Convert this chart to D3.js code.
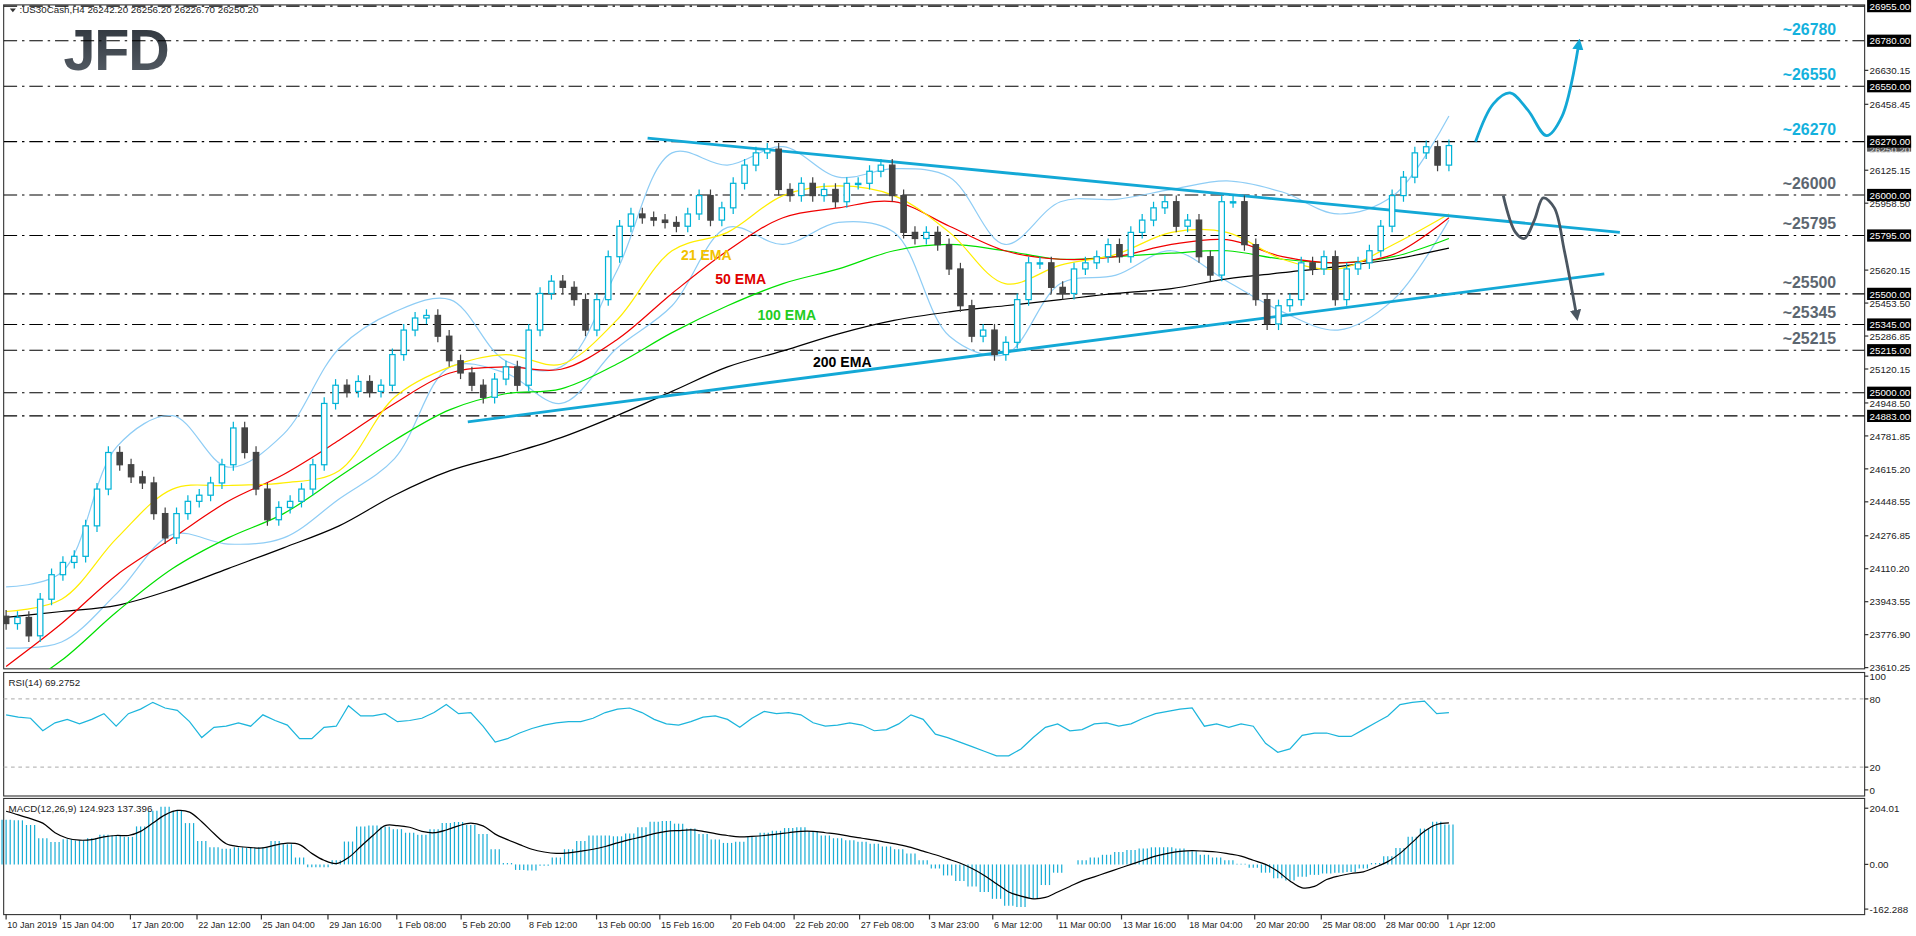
<!DOCTYPE html>
<html><head><meta charset="utf-8">
<script src="https://cdn.jsdelivr.net/npm/d3@7"></script>
<style>html,body{margin:0;padding:0;background:#fff;overflow:hidden}</style>
</head><body>
<svg id="c" width="1916" height="936" viewBox="0 0 1567 765.5"></svg>
<script>
// ---------- DATA ----------
const closes = [23833,23864,23771,23956,24080,24142,24173,24327,24513,24698,24636,24575,24544,24389,24266,24389,24451,24482,24544,24636,24822,24698,24513,24358,24420,24451,24513,24636,24946,25038,25007,25057,25007,25038,25193,25317,25378,25391,25286,25162,25100,25038,24977,25069,25131,25038,25317,25502,25564,25533,25471,25317,25471,25688,25842,25904,25885,25873,25861,25842,25904,25997,25873,25935,26059,26151,26213,26232,26028,25997,26059,25997,26028,25966,26059,26059,26120,26151,25997,25811,25780,25811,25749,25626,25440,25286,25317,25193,25255,25471,25657,25657,25533,25502,25626,25657,25688,25749,25688,25811,25873,25935,25966,25842,25873,25688,25595,25966,25966,25749,25471,25348,25440,25471,25657,25626,25688,25471,25626,25657,25718,25842,25997,26090,26213,26244,26151,26250];
const firstOpen = 23870;
// line series sampled every 5 bars (bar 0..130)
const ema21  = [23894,23956,24266,24513,24531,24544,24606,24977,25131,25193,25144,25366,25718,25811,25997,26046,25997,25811,25552,25645,25700,25811,25811,25675,25626,25750,25904];
const ema50  = [23616,23833,24080,24266,24451,24587,24760,24946,25100,25131,25119,25267,25502,25718,25885,25935,25966,25842,25718,25675,25688,25750,25774,25688,25657,25700,25885];
const ema100 = [23462,23647,23894,24111,24266,24389,24575,24760,24915,24995,25020,25144,25304,25440,25552,25626,25718,25750,25718,25675,25688,25706,25718,25675,25657,25688,25780];
const ema200 = [23864,23894,23925,24006,24111,24216,24327,24482,24606,24686,24773,24884,25007,25131,25212,25298,25366,25409,25440,25471,25502,25527,25576,25607,25638,25675,25731];
const bbUpper = [24018,24092,24729,24884,24624,24791,25224,25409,25471,25162,25131,25613,26213,26151,26244,26090,26133,26090,25750,25966,25978,26028,26071,26015,25904,25997,26399];
const bbLower = [23709,23740,23987,24284,24235,24266,24463,24667,25131,25100,24946,25224,25440,25836,25750,25861,25811,25286,25193,25552,25595,25718,25564,25409,25317,25471,25873];
const rsi = [66,64,63,52,59,62,58,62,67,56,67,71,77,72,70,60,46,55,56,59,56,66,61,57,45,45,55,56,74,65,65,67,60,61,63,68,75,67,68,56,42,45,50,54,57,59,60,60,63,68,71,72,68,62,58,57,60,64,65,62,55,63,69,67,68,66,59,56,57,59,57,52,53,58,66,62,49,46,42,38,34,30,30,36,46,55,58,52,53,58,59,56,58,63,67,69,71,72,56,58,55,58,56,41,33,36,48,50,50,47,47,53,59,65,75,77,78,67,68];
const macdHist = [162,160,143,95,81,91,87,95,108,105,100,138,195,209,195,150,85,62,57,62,60,62,85,73,25,-10,-10,15,83,138,141,137,128,115,108,128,150,154,143,110,55,5,-20,-22,-5,25,55,85,105,105,102,112,135,155,158,148,130,110,90,78,82,100,115,122,132,135,120,105,95,88,82,75,65,55,40,15,-15,-40,-60,-80,-100,-125,-150,-155,-125,-75,-30,0,15,25,35,45,52,58,62,62,58,48,35,25,15,2,-12,-30,-50,-58,-45,-38,-33,-30,-28,-15,5,30,60,100,130,155,145];
const macdSignal = [193,180,166,150,115,95,88,90,100,105,105,120,150,180,196,190,155,112,75,65,61,60,70,77,72,40,15,3,25,65,105,141,141,135,120,115,125,140,150,140,110,90,72,55,45,40,42,48,55,65,78,90,100,112,120,123,125,120,112,105,100,102,105,110,115,120,120,115,110,102,95,88,80,72,62,48,35,20,5,-15,-40,-70,-100,-115,-125,-120,-100,-80,-60,-45,-30,-15,0,15,30,40,47,50,48,45,38,30,15,0,-25,-60,-85,-80,-55,-42,-33,-27,-10,10,40,80,120,145,151];
const levels = [26955,26780,26550,26270,26000,25795,25500,25345,25215,25000,24883];
const levelNotes = [["~26780",26780,"c"],["~26550",26550,"c"],["~26270",26270,"c"],["~26000",26000,"g"],["~25795",25795,"g"],["~25500",25500,"g"],["~25345",25345,"g"],["~25215",25215,"g"]];
const axisTicks = ["26630.15","26458.45","26125.15","25958.50","25620.15","25453.50","25286.85","25120.15","24948.50","24781.85","24615.20","24448.55","24276.85","24110.20","23943.55","23776.90","23610.25"];
const upperTrend = [[57.8,26288],[145.4,25811]];
const lowerTrend = [[41.6,24853],[144,25601]];
const bullPath = [[132.4,26269],[134.0,26461],[135.5,26516],[137.1,26430],[138.8,26300],[140.2,26399],[141.7,26763]];
const bearPath = [[134.9,25997],[136.0,25811],[136.8,25780],[137.7,25873],[138.5,25985],[139.5,25935],[140.4,25718],[141.5,25391]];
const emaLabels = [["21 EMA",25669,"#f2c200"],["50 EMA",25552,"#e00000"],["100 EMA",25366,"#22cc22"],["200 EMA",25131,"#000"]];
const emaLabelBars = [60.8,63.9,67.7,72.7];
const dateLabels = ["10 Jan 2019","15 Jan 04:00","17 Jan 20:00","22 Jan 12:00","25 Jan 04:00","29 Jan 16:00","1 Feb 08:00","5 Feb 20:00","8 Feb 12:00","13 Feb 00:00","15 Feb 16:00","20 Feb 04:00","22 Feb 20:00","27 Feb 08:00","3 Mar 23:00","6 Mar 12:00","11 Mar 00:00","13 Mar 16:00","18 Mar 04:00","20 Mar 20:00","25 Mar 08:00","28 Mar 00:00","1 Apr 12:00"];
const dateBars = [0,4.9,11.2,17.2,23.0,29.0,35.2,41.0,47.0,53.2,58.9,65.3,71.0,76.9,83.2,88.9,94.7,100.5,106.5,112.5,118.5,124.2,129.9];

// ---------- DRAW ----------
const svg = d3.select("#c");
const F = "'Liberation Sans', Arial, sans-serif";
const L = 3, R = 1525;
const xb = d3.scaleLinear().domain([0,130]).range([5,1185]);
const y = d3.scaleLinear().domain([23610.25,26955]).range([546,5]);
const yR = d3.scaleLinear().domain([0,100]).range([646,553]);
const yM = d3.scaleLinear().domain([-162.288,204.01]).range([743.5,661]);
const CY = "#00b3d7", BLUE = "#13a8d6", GR = "#4b5661";

const defs = svg.append("defs");
const grad = defs.append("linearGradient").attr("id","jg").attr("x1",0).attr("y1",0).attr("x2",0).attr("y2",1);
grad.append("stop").attr("offset",0).attr("stop-color","#2b3138");
grad.append("stop").attr("offset",1).attr("stop-color","#59616a");
[["ab",BLUE],["ag",GR]].forEach(([id,c])=>{
  defs.append("marker").attr("id",id).attr("viewBox","0 0 10 10").attr("refX",5).attr("refY",5)
   .attr("markerWidth",4).attr("markerHeight",4).attr("orient","auto")
   .append("path").attr("d","M0,0 L10,5 L0,10 z").attr("fill",c);
});
defs.append("clipPath").attr("id","cm").append("rect").attr("x",L).attr("y",4).attr("width",R-L).attr("height",543);

[[4,547],[550,651],[653,748]].forEach(([a,b])=>svg.append("rect").attr("x",L).attr("y",a).attr("width",R-L).attr("height",b-a).attr("fill","none").attr("stroke","#333").attr("stroke-width",0.9));

svg.append("text").attr("x",52).attr("y",57).attr("font-family",F).attr("font-weight","bold").attr("font-size",47).attr("fill","url(#jg)").attr("letter-spacing",-1).text("JFD");

const main = svg.append("g").attr("clip-path","url(#cm)");
levels.forEach(v=>main.append("line").attr("x1",L).attr("x2",R).attr("y1",y(v)).attr("y2",y(v)).attr("stroke","#000").attr("stroke-width",0.9).attr("stroke-dasharray","11,4,2,4"));

const lx = i=>xb(i*5);
const line = (arr,col,w)=>main.append("path").datum(arr).attr("fill","none").attr("stroke",col).attr("stroke-width",w)
  .attr("d",d3.line().x((d,i)=>lx(i)).y(d=>y(d)).curve(d3.curveCatmullRom));
line(bbUpper,"#8fcdf5",1); line(bbLower,"#8fcdf5",1);
line(ema200,"#000",1); line(ema100,"#00e000",1); line(ema50,"#f00000",1); line(ema21,"#ffee00",1);

[upperTrend,lowerTrend].forEach(t=>main.append("line").attr("x1",xb(t[0][0])).attr("y1",y(t[0][1])).attr("x2",xb(t[1][0])).attr("y2",y(t[1][1])).attr("stroke",BLUE).attr("stroke-width",2.3));

const N = closes.length;
const cx = i=>xb(i*130/(N-1));
closes.forEach((c,i)=>{
  const o = i===0?firstOpen:closes[i-1];
  const up = c>=o;
  const t = y(Math.max(o,c)), b = y(Math.min(o,c));
  main.append("line").attr("x1",cx(i)).attr("x2",cx(i)).attr("y1",t-5).attr("y2",b+5).attr("stroke",up?CY:"#444").attr("stroke-width",1);
  main.append("rect").attr("x",cx(i)-2.2).attr("y",t).attr("width",4.4).attr("height",Math.max(1,b-t))
    .attr("fill",up?"#fff":"#444").attr("stroke",up?CY:"#444").attr("stroke-width",1);
});

const cl = d3.line().x(d=>xb(d[0])).y(d=>y(d[1])).curve(d3.curveCatmullRom);
main.append("path").datum(bullPath).attr("d",cl).attr("fill","none").attr("stroke",BLUE).attr("stroke-width",2.3).attr("marker-end","url(#ab)");
main.append("path").datum(bearPath).attr("d",cl).attr("fill","none").attr("stroke",GR).attr("stroke-width",2.3).attr("marker-end","url(#ag)");

levelNotes.forEach(([t,v,c])=>svg.append("text").attr("x",1458).attr("y",y(v)-5).attr("font-family",F).attr("font-weight","bold").attr("font-size",13).attr("fill",c==="c"?"#14b1dd":"#5c6670").text(t));
emaLabels.forEach(([t,v,c],i)=>svg.append("text").attr("x",xb(emaLabelBars[i])).attr("y",y(v)).attr("font-family",F).attr("font-weight","bold").attr("font-size",11.5).attr("fill",c).text(t));

svg.append("path").attr("d","M8,7 L13,7 L10.5,10 z").attr("fill","#333");
svg.append("text").attr("x",16).attr("y",11).attr("font-family",F).attr("font-size",8).attr("fill","#222").text(":US30Cash,H4  26242.20 26256.20 26226.70 26250.20");

const ax = svg.append("g").attr("font-family",F).attr("font-size",8);
axisTicks.forEach(t=>{const v=+t;ax.append("line").attr("x1",R).attr("x2",R+3).attr("y1",y(v)).attr("y2",y(v)).attr("stroke","#333");
  ax.append("text").attr("x",R+4).attr("y",y(v)+3).attr("fill","#222").text(t);});
ax.append("rect").attr("x",R+2).attr("y",y(26250.2)-4).attr("width",36).attr("height",9).attr("fill","#555");
ax.append("text").attr("x",R+4).attr("y",y(26250.2)+6).attr("fill","#ddd").text("26250.20");
levels.forEach(v=>{ax.append("rect").attr("x",R+2).attr("y",y(v)-5).attr("width",36).attr("height",10).attr("fill","#000");
  ax.append("text").attr("x",R+4).attr("y",y(v)+3).attr("fill","#fff").text(v.toFixed(2));});

const ox = d3.scaleLinear().domain([0,rsi.length-1]).range([5,1185]);
[80,20].forEach(v=>svg.append("line").attr("x1",L).attr("x2",R).attr("y1",yR(v)).attr("y2",yR(v)).attr("stroke","#bbb").attr("stroke-dasharray","3,3"));
svg.append("path").datum(rsi).attr("fill","none").attr("stroke","#1cb5dc").attr("stroke-width",1).attr("d",d3.line().x((d,i)=>ox(i)).y(d=>yR(d)));
svg.append("text").attr("x",7).attr("y",561).attr("font-family",F).attr("font-size",8).attr("fill","#222").text("RSI(14) 69.2752");
[100,80,20,0].forEach(v=>{ax.append("text").attr("x",R+4).attr("y",yR(v)+3).attr("fill","#222").text(v);
  ax.append("line").attr("x1",R).attr("x2",R+3).attr("y1",yR(v)).attr("y2",yR(v)).attr("stroke","#333");});

const mx = d3.scaleLinear().domain([0,macdHist.length-1]).range([5,1185]);
const step = (mx(1)-mx(0))/3;
macdHist.forEach((v,i)=>{for(let k=0;k<3;k++){const xx=mx(i)+(k-1)*step;
  svg.append("line").attr("x1",xx).attr("x2",xx).attr("y1",yM(0)).attr("y2",yM(v)).attr("stroke","#1aaed6").attr("stroke-width",1);}});
svg.append("path").datum(macdSignal).attr("fill","none").attr("stroke","#000").attr("stroke-width",1).attr("d",d3.line().x((d,i)=>mx(i)).y(d=>yM(d)).curve(d3.curveCatmullRom));
svg.append("text").attr("x",7).attr("y",664).attr("font-family",F).attr("font-size",8).attr("fill","#222").text("MACD(12,26,9) 124.923 137.396");
[["204.01",204.01],["0.00",0],["-162.288",-162.288]].forEach(([t,v])=>{ax.append("text").attr("x",R+4).attr("y",yM(v)+3).attr("fill","#222").text(t);
  ax.append("line").attr("x1",R).attr("x2",R+3).attr("y1",yM(v)).attr("y2",yM(v)).attr("stroke","#333");});

dateLabels.forEach((t,i)=>{const xx=xb(dateBars[i]);
  svg.append("line").attr("x1",xx).attr("x2",xx).attr("y1",748).attr("y2",752).attr("stroke","#333");
  svg.append("text").attr("x",xx+1).attr("y",759).attr("font-family",F).attr("font-size",7.4).attr("fill","#222").text(t);});
</script>
</body></html>
